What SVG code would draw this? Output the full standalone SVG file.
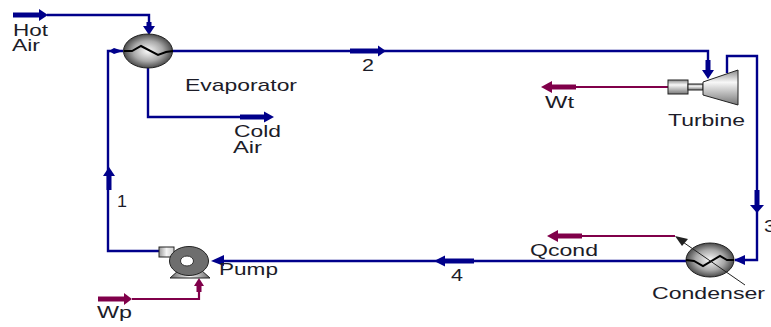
<svg xmlns="http://www.w3.org/2000/svg" width="771" height="327" viewBox="0 0 771 327">
<style>
text{font-family:"Liberation Sans",Arial,sans-serif;font-size:17px;fill:#1c1c28}
.s{fill:none;stroke:#00008b;stroke-width:2.4}
.w{fill:none;stroke:#80004a;stroke-width:2.2}
.st{fill:none;stroke:#00008b;stroke-width:5}
.wt{fill:none;stroke:#80004a;stroke-width:5}
.ah{fill:#00008b}
.ahw{fill:#80004a}
.wave{fill:none;stroke:#000;stroke-width:2}
.eq{stroke:#222;stroke-width:1}
</style>
<defs>
<radialGradient id="hx" cx="50%" cy="50%" r="55%"><stop offset="0" stop-color="#fafafa"/><stop offset="0.55" stop-color="#a8a8a8"/><stop offset="1" stop-color="#333"/></radialGradient>
<linearGradient id="metal" x1="0" y1="0" x2="0" y2="1"><stop offset="0" stop-color="#8a8a8a"/><stop offset="0.35" stop-color="#f8f8f8"/><stop offset="1" stop-color="#777"/></linearGradient>
<linearGradient id="inlet" x1="0" y1="0" x2="1" y2="0"><stop offset="0" stop-color="#999"/><stop offset="0.5" stop-color="#f4f4f4"/><stop offset="1" stop-color="#ccc"/></linearGradient>
<linearGradient id="base" x1="0" y1="0" x2="1" y2="0"><stop offset="0" stop-color="#666"/><stop offset="0.5" stop-color="#f4f4f4"/><stop offset="1" stop-color="#666"/></linearGradient>
</defs>
<g id="connectors">
<path class="s" d="M47 15H149V28"/>
<path class="st" d="M13 15H40"/><path class="ah" d="M39 9L48 15L39 21Z"/>
<path class="st" d="M149 22V29"/><path class="ah" d="M143 26H155L149 35Z"/>
<path class="s" d="M159 251H108V51H123"/>
<path class="ah" d="M109 51L114 48L123 51L114 54Z"/>
<path class="st" d="M109 190V175"/><path class="ah" d="M103 176L109 167L115 176Z"/>
<path class="s" d="M173 51H708V70"/>
<path class="st" d="M350 51H379"/><path class="ah" d="M378 45.500L386 51L378 56.500Z"/>
<path class="st" d="M708 60V72"/><path class="ah" d="M702 70H714L708 79Z"/>
<path class="s" d="M148 68V117H268"/>
<path class="st" d="M240 117H266"/><path class="ah" d="M264 111.500L274 117L264 122.500Z"/>
<path class="s" d="M727 73V56H757V260H735"/>
<path class="st" d="M757 190V206"/><path class="ah" d="M750 205H764L757 213Z"/>
<path class="ah" d="M734 260L745 255V265Z"/>
<path class="s" d="M686 261H218"/>
<path class="st" d="M474 261H444"/><path class="ah" d="M445 255.500L434 261L445 266.500Z"/>
<path class="ah" d="M211 261L224 255V266Z"/>
<path class="w" d="M668 87H570"/>
<path class="wt" d="M576 87H550"/><path class="ahw" d="M552 81L541 87L552 93Z"/>
<path class="w" d="M675 236H575"/>
<path class="wt" d="M582 236H556"/><path class="ahw" d="M558 230L547 236L558 242Z"/>
<path class="w" d="M132 299H199V285"/>
<path class="wt" d="M98 299H126"/><path class="ahw" d="M124 293L132 299L124 305Z"/>
<path class="wt" d="M199 292V285"/><path class="ahw" d="M194 286L199 278L204 286Z"/>
<path fill="#222" d="M675 236L688 239L682 246Z"/>
</g>
<g id="evaporator">
<ellipse class="eq" cx="148" cy="51" rx="24.500" ry="17" fill="url(#hx)"/>
<path class="wave" d="M124 51L132 51L141 46L158 55L166 52L173 51"/>
</g>
<g id="turbine">
<rect class="eq" x="668" y="80" width="20" height="14" fill="url(#metal)"/>
<rect class="eq" x="688" y="84" width="15" height="6" fill="url(#metal)"/>
<path class="eq" d="M703 82L738 70V105L703 95Z" fill="url(#metal)"/>
</g>
<g id="condenser">
<ellipse class="eq" cx="710" cy="260" rx="24" ry="17" fill="url(#hx)"/>
<path class="wave" d="M686 260L694 261L703 266L720 256L727 260L734 260"/>
<path d="M745 285L680 240" fill="none" stroke="#222" stroke-width="1"/>
</g>
<g id="pump">
<path class="eq" d="M170 278L179 270H201L210 278Z" fill="url(#base)"/>
<rect class="eq" x="159" y="247" width="15" height="10" fill="url(#inlet)"/>
<ellipse cx="189" cy="261" rx="19.500" ry="14.500" fill="#6e6e6e" stroke="#222"/>
<ellipse cx="187" cy="261" rx="6.500" ry="5" fill="#fff" stroke="#333"/>
</g>
<g id="labels">
<text x="13" y="36" textLength="35" lengthAdjust="spacingAndGlyphs">Hot</text>
<text x="12" y="51" textLength="28" lengthAdjust="spacingAndGlyphs">Air</text>
<text x="185" y="91" textLength="112" lengthAdjust="spacingAndGlyphs">Evaporator</text>
<text x="234" y="137" textLength="47" lengthAdjust="spacingAndGlyphs">Cold</text>
<text x="233" y="153" textLength="29" lengthAdjust="spacingAndGlyphs">Air</text>
<text x="362" y="71" textLength="12" lengthAdjust="spacingAndGlyphs">2</text>
<text x="545" y="108" textLength="29" lengthAdjust="spacingAndGlyphs">Wt</text>
<text x="668" y="126" textLength="77" lengthAdjust="spacingAndGlyphs">Turbine</text>
<text x="764" y="232" textLength="12" lengthAdjust="spacingAndGlyphs">3</text>
<text x="530" y="256" textLength="68" lengthAdjust="spacingAndGlyphs">Qcond</text>
<text x="652" y="299" textLength="113" lengthAdjust="spacingAndGlyphs">Condenser</text>
<text x="451" y="281" textLength="12" lengthAdjust="spacingAndGlyphs">4</text>
<text x="219" y="275" textLength="59" lengthAdjust="spacingAndGlyphs">Pump</text>
<text x="97" y="318" textLength="35" lengthAdjust="spacingAndGlyphs">Wp</text>
<text x="117" y="207" textLength="10" lengthAdjust="spacingAndGlyphs">1</text>
</g>
</svg>
